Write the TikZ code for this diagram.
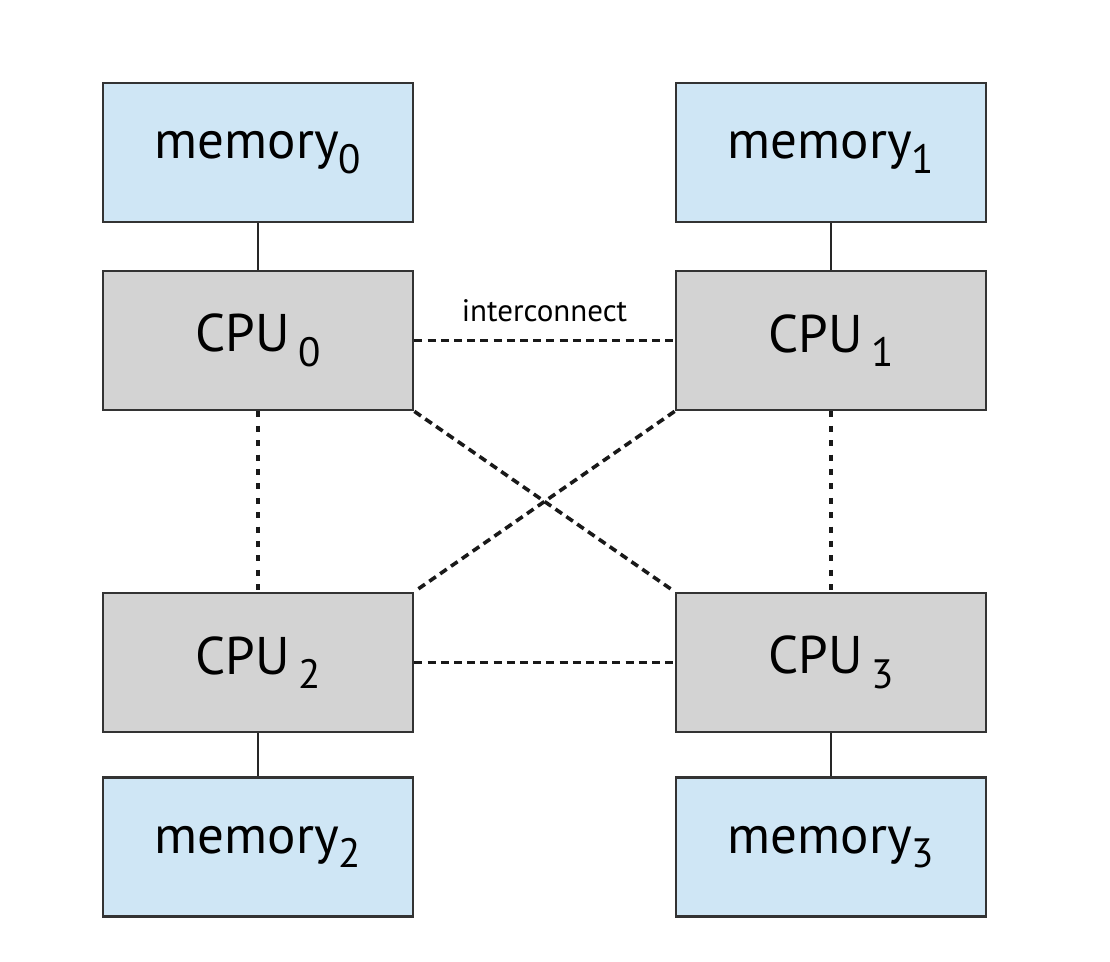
\documentclass[tikz,border=0pt]{standalone}
\usepackage{fontspec}
\setmainfont{PT Sans}

\newcommand{\idx}[1]{\raisebox{-0.55ex}{\fontsize{20.5}{20.5}\selectfont #1}}

\begin{document}
\begin{tikzpicture}[
  x=0.5pt, y=-0.5pt,
  box/.style={draw=black!80, line width=1.4pt, minimum width=155pt, minimum height=69.5pt,
    inner sep=0pt, font=\fontsize{26.5}{26.5}\selectfont},
  membox/.style={box, fill=memblue},
  cpubox/.style={box, fill=cpugray},
  link/.style={draw=black!85, line width=1.1pt},
  bus/.style={draw=black!90, line width=1.8pt, dash pattern=on 4pt off 2.6pt},
  dots/.style={draw=black!90, line width=1.8pt, dash pattern=on 3pt off 4.2pt}
  ]
\definecolor{memblue}{RGB}{207,230,245}
\definecolor{cpugray}{RGB}{211,211,211}
\useasboundingbox [fill=white] (0,0) rectangle (1110,962);
%\draw [ultra thin, lightgray] (0,0) grid [step=100] (1110,962);
\node (mem0) [membox] at (258,152.5) {memory\idx{0}};
\node (mem1) [membox] at (831,152.5) {memory\idx{1}};
\node (cpu0) [cpubox] at (258,340.5) {CPU\,\idx{0}};
\node (cpu1) [cpubox] at (831,340.5) {CPU\,\idx{1}};
\node (cpu2) [cpubox] at (258,662.5) {CPU\,\idx{2}};
\node (cpu3) [cpubox] at (831,662.5) {CPU\,\idx{3}};
\node (mem2) [membox] at (258,847) {memory\idx{2}};
\node (mem3) [membox] at (831,847) {memory\idx{3}};
\draw [link] (mem0) -- (cpu0);
\draw [link] (mem1) -- (cpu1);
\draw [link] (cpu2) -- (mem2);
\draw [link] (cpu3) -- (mem3);
\draw [bus] (cpu0.east) -- node [above=5pt, font=\fontsize{15.5}{15.5}\selectfont] (ic) {interconnect} (cpu1.west);
\draw [bus] (cpu2.east) -- (cpu3.west);
\draw [bus] (cpu0.south east) -- (cpu3.north west);
\draw [bus] (cpu1.south west) -- (cpu2.north east);
\draw [dots] (cpu0.south) -- (cpu2.north);
\draw [dots] (cpu1.south) -- (cpu3.north);
\end{tikzpicture}
\end{document}
